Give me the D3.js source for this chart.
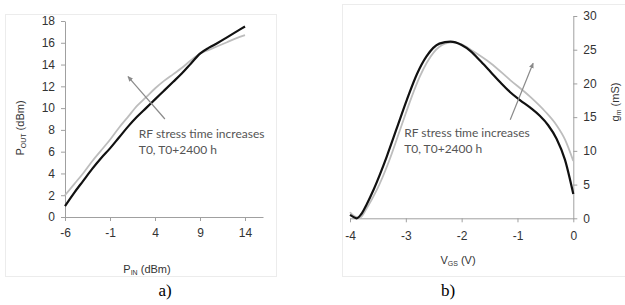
<!DOCTYPE html>
<html><head><meta charset="utf-8">
<script src="https://cdn.jsdelivr.net/npm/d3@7"></script>
<style>body{margin:0;background:#fff}svg{display:block}</style>
</head><body>
<svg id="c" width="625" height="305"></svg>
<script>
// ---- Chart a) data ----
const pinTicks = [-6, -1, 4, 9, 14];
const poutTicks = [0, 2, 4, 6, 8, 10, 12, 14, 16, 18];
const pinBlack = [-6, -5, -4, -3, -2, -1, 0, 1, 2, 3, 4, 5, 6, 7, 8, 9, 10, 11, 12, 13, 14];
const poutBlack = [1.0, 2.2, 3.3, 4.4, 5.4, 6.3, 7.3, 8.3, 9.2, 10.0, 10.8, 11.6, 12.4, 13.2, 14.1, 15.0, 15.55, 16.0, 16.5, 17.0, 17.5];
const pinGray = [-6, -5, -4, -3, -2, -1, 0, 1, 2, 3, 4, 5, 6, 7, 8, 9, 10, 11, 12, 13, 14];
const poutGray = [2.0, 3.0, 4.0, 5.1, 6.1, 7.1, 8.2, 9.2, 10.2, 11.0, 11.8, 12.5, 13.1, 13.7, 14.4, 15.0, 15.35, 15.7, 16.05, 16.4, 16.7];
const arrowA = [[5.1, 9.0], [1.0, 12.9]];
const noteA = [2.2, 7.25];

// ---- Chart b) data ----
const vgsTicks = [-4, -3, -2, -1, 0];
const gmTicks = [0, 5, 10, 15, 20, 25, 30];
const vgsBlack = [-4, -3.95, -3.88, -3.8, -3.7, -3.58, -3.46, -3.34, -3.16, -2.98, -2.8, -2.63, -2.4, -2.2, -2.0, -1.84, -1.65, -1.48, -1.3, -1.13, -0.95, -0.77, -0.6, -0.45, -0.3, -0.15, 0];
const gmBlack = [0.5, 0.25, 0.0, 0.6, 2.1, 4.2, 6.6, 9.2, 13.4, 17.6, 21.4, 24.0, 25.9, 26.2, 25.7, 24.8, 23.2, 21.7, 20.1, 18.7, 17.5, 16.4, 15.2, 13.8, 11.8, 8.7, 3.6];
const vgsGray = [-4, -3.92, -3.82, -3.7, -3.52, -3.3, -3.1, -2.9, -2.75, -2.5, -2.3, -2.15, -2.0, -1.8, -1.48, -1.13, -0.77, -0.5, -0.3, -0.15, 0];
const gmGray = [0.9, 0.3, 0.1, 1.5, 4.2, 8.5, 13.2, 17.9, 21.0, 24.6, 25.9, 26.1, 25.8, 24.8, 23.0, 20.5, 18.0, 15.8, 13.8, 11.7, 8.5];
const arrowB = [[-1.13, 14.6], [-0.72, 23.0]];
const noteB = [-3.03, 12.0];

const svg = d3.select("#c");
const tickFont = "'Liberation Sans', Arial, sans-serif";
const noteFont = "Lato, 'Open Sans', sans-serif";
const fmt = d => String(d);

// Frames
svg.append("rect").attr("x", 5.5).attr("y", 14.5).attr("width", 271).attr("height", 262)
  .attr("fill", "none").attr("stroke", "#ececec");
svg.append("rect").attr("x", 342.5).attr("y", 4.5).attr("width", 300).attr("height", 272)
  .attr("fill", "none").attr("stroke", "#ececec");

const defs = svg.append("defs");
defs.append("marker").attr("id", "ah").attr("viewBox", "0 0 10 10").attr("refX", 8).attr("refY", 5)
  .attr("markerWidth", 5).attr("markerHeight", 5).attr("orient", "auto")
  .append("path").attr("d", "M0,1 L9,5 L0,9 Z").attr("fill", "#8a8a8a");

function styleAxis(g) {
  g.selectAll("path,line").attr("stroke", "#a0a0a0").attr("stroke-width", 1);
  g.selectAll("text").attr("fill", "#333").style("font-family", tickFont).style("font-size", "12px");
}

// ---- Chart a ----
const xA = d3.scaleLinear().domain([-6, 16]).range([65, 263]);
const yA = d3.scaleLinear().domain([0, 18]).range([217, 21]);
const gxA = svg.append("g").attr("transform", `translate(0,${yA(0)})`)
  .call(d3.axisBottom(xA).tickValues(pinTicks).tickFormat(fmt).tickSize(4).tickSizeOuter(0).tickPadding(7));
styleAxis(gxA);
const gyA = svg.append("g").attr("transform", `translate(${xA(-6)},0)`)
  .call(d3.axisLeft(yA).tickValues(poutTicks).tickFormat(fmt).tickSize(4).tickSizeOuter(0).tickPadding(6));
styleAxis(gyA);

const lineA = d3.line().x(d => xA(d[0])).y(d => yA(d[1])).curve(d3.curveMonotoneX);
svg.append("path").datum(pinGray.map((v, i) => [v, poutGray[i]])).attr("d", lineA)
  .attr("fill", "none").attr("stroke", "#bdbdbd").attr("stroke-width", 1.8);
svg.append("path").datum(pinBlack.map((v, i) => [v, poutBlack[i]])).attr("d", lineA)
  .attr("fill", "none").attr("stroke", "#111").attr("stroke-width", 2.2);

svg.append("line").attr("x1", xA(arrowA[0][0])).attr("y1", yA(arrowA[0][1]))
  .attr("x2", xA(arrowA[1][0])).attr("y2", yA(arrowA[1][1]))
  .attr("stroke", "#8a8a8a").attr("stroke-width", 1.2).attr("marker-end", "url(#ah)");
const tA = svg.append("text").attr("x", xA(noteA[0])).attr("y", yA(noteA[1]))
  .style("font-family", noteFont).style("font-size", "12px").attr("fill", "#555");
tA.append("tspan").text("RF stress time increases");
tA.append("tspan").attr("x", xA(noteA[0])).attr("dy", 16).text("T0, T0+2400 h");

// axis titles a
const ytA = svg.append("text").attr("transform", `translate(24,128) rotate(-90)`)
  .attr("text-anchor", "middle").style("font-family", tickFont).style("font-size", "11px").attr("fill", "#333");
ytA.append("tspan").text("P");
ytA.append("tspan").attr("font-size", "7px").attr("dy", 2).text("OUT");
ytA.append("tspan").attr("dy", -2).text(" (dBm)");
const xtA = svg.append("text").attr("x", 147).attr("y", 273)
  .attr("text-anchor", "middle").style("font-family", tickFont).style("font-size", "11px").attr("fill", "#333");
xtA.append("tspan").text("P");
xtA.append("tspan").attr("font-size", "7px").attr("dy", 2).text("IN");
xtA.append("tspan").attr("dy", -2).text(" (dBm)");

svg.append("text").attr("x", 165).attr("y", 296).attr("text-anchor", "middle")
  .style("font-family", "'Liberation Serif', 'Times New Roman', serif").style("font-size", "17px").attr("fill", "#000").text("a)");

// ---- Chart b ----
const xB = d3.scaleLinear().domain([-4, 0]).range([350, 573.3]);
const yB = d3.scaleLinear().domain([0, 30]).range([218.3, 16]);
const gxB = svg.append("g").attr("transform", `translate(0,${yB(0)})`)
  .call(d3.axisBottom(xB).tickValues(vgsTicks).tickFormat(fmt).tickSize(4).tickSizeOuter(0).tickPadding(9));
styleAxis(gxB);
const gyB = svg.append("g").attr("transform", `translate(${xB(0)},0)`)
  .call(d3.axisRight(yB).tickValues(gmTicks).tickFormat(fmt).tickSize(4).tickSizeOuter(0).tickPadding(6));
styleAxis(gyB);

const lineB = d3.line().x(d => xB(d[0])).y(d => yB(d[1])).curve(d3.curveMonotoneX);
svg.append("path").datum(vgsGray.map((v, i) => [v, gmGray[i]])).attr("d", lineB)
  .attr("fill", "none").attr("stroke", "#bdbdbd").attr("stroke-width", 1.8);
svg.append("path").datum(vgsBlack.map((v, i) => [v, gmBlack[i]])).attr("d", lineB)
  .attr("fill", "none").attr("stroke", "#111").attr("stroke-width", 2.2);

svg.append("line").attr("x1", xB(arrowB[0][0])).attr("y1", yB(arrowB[0][1]))
  .attr("x2", xB(arrowB[1][0])).attr("y2", yB(arrowB[1][1]))
  .attr("stroke", "#8a8a8a").attr("stroke-width", 1.2).attr("marker-end", "url(#ah)");
const tB = svg.append("text").attr("x", xB(noteB[0])).attr("y", yB(noteB[1]))
  .style("font-family", noteFont).style("font-size", "12px").attr("fill", "#555");
tB.append("tspan").text("RF stress time increases");
tB.append("tspan").attr("x", xB(noteB[0])).attr("dy", 16).text("T0, T0+2400 h");

const ytB = svg.append("text").attr("transform", `translate(619,102) rotate(-90)`)
  .attr("text-anchor", "middle").style("font-family", tickFont).style("font-size", "11px").attr("fill", "#333");
ytB.append("tspan").text("g");
ytB.append("tspan").attr("font-size", "7px").attr("dy", 2).text("m");
ytB.append("tspan").attr("dy", -2).text(" (mS)");
const xtB = svg.append("text").attr("x", 458).attr("y", 264)
  .attr("text-anchor", "middle").style("font-family", tickFont).style("font-size", "11px").attr("fill", "#333");
xtB.append("tspan").text("V");
xtB.append("tspan").attr("font-size", "7px").attr("dy", 2).text("GS");
xtB.append("tspan").attr("dy", -2).text(" (V)");

svg.append("text").attr("x", 448).attr("y", 296).attr("text-anchor", "middle")
  .style("font-family", "'Liberation Serif', 'Times New Roman', serif").style("font-size", "17px").attr("fill", "#000").text("b)");
</script>
</body></html>
